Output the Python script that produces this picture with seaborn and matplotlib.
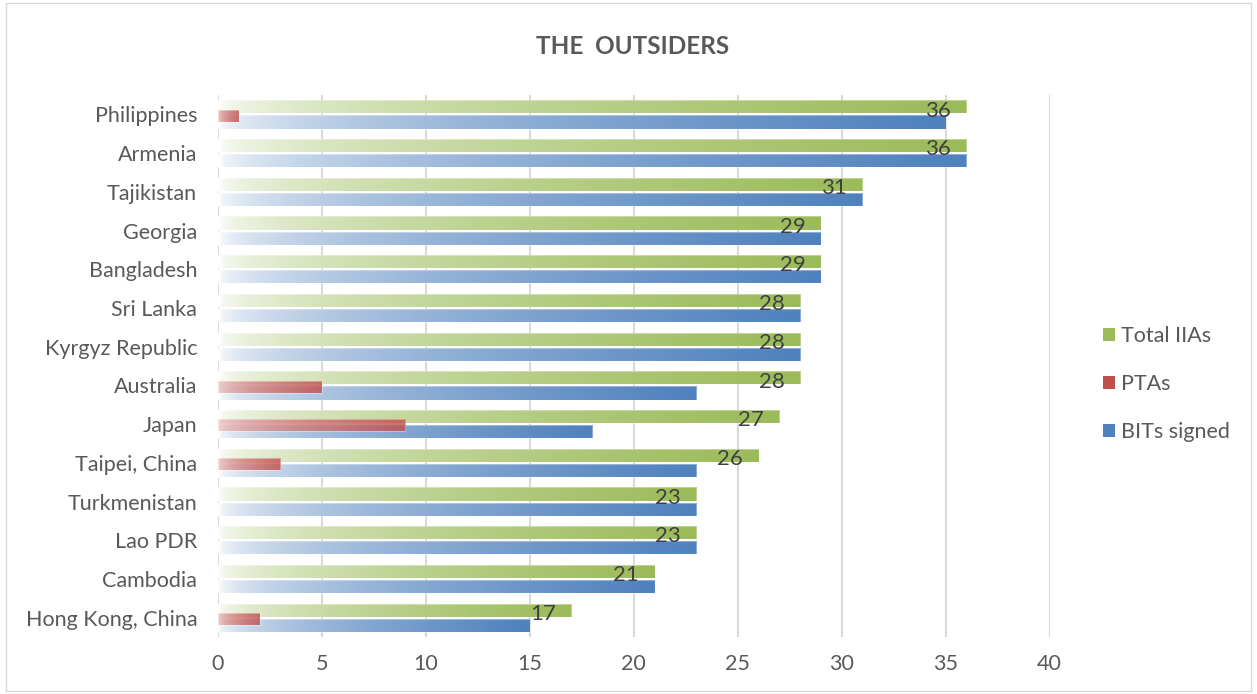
import numpy as np
import pandas as pd
import seaborn as sns
import matplotlib.pyplot as plt
from matplotlib.colors import to_rgb
from matplotlib.patches import Patch, Rectangle

countries = ["Philippines", "Armenia", "Tajikistan", "Georgia", "Bangladesh",
             "Sri Lanka", "Kyrgyz Republic", "Australia", "Japan",
             "Taipei, China", "Turkmenistan", "Lao PDR", "Cambodia",
             "Hong Kong, China"]
total_iias = [36, 36, 31, 29, 29, 28, 28, 28, 27, 26, 23, 23, 21, 17]
ptas = [1, 0, 0, 0, 0, 0, 0, 5, 9, 3, 0, 0, 0, 2]
bits_signed = [35, 36, 31, 29, 29, 28, 28, 23, 18, 23, 23, 23, 21, 15]

series_names = ["Total IIAs", "PTAs", "BITs signed"]
series_values = [total_iias, ptas, bits_signed]
series_colors = ["#9BBB59", "#C0504D", "#4F81BD"]
series_offset = [-0.195, 0.03, 0.195]
series_height = [0.34, 0.31, 0.34]
series_start = [0.0, 0.25, 0.0]
series_alpha = [1.0, 0.82, 1.0]
series_z = [2, 4, 3]

sns.set_theme(style="white")
plt.rcParams["font.family"] = ["Lato", "DejaVu Sans"]
text_col = "#595959"
fs = 15.5

fig = plt.figure(figsize=(12.57, 6.94), dpi=100)
ax = fig.add_axes([0.1734, 0.082, 0.835 - 0.1734, 0.781])

pos = np.arange(len(countries))


def gradient(color, start, n=256, gamma=0.5):
    t = np.linspace(0, 1, n)
    a = start + (1 - start) * t ** gamma
    c = np.array(to_rgb(color))
    return (1 - a[:, None] * (1 - c))[None, :, :]


for name, vals, col, off, h, st, al, z in zip(series_names, series_values,
                                             series_colors, series_offset,
                                             series_height, series_start,
                                             series_alpha, series_z):
    df = pd.DataFrame({"value": vals, "pos": pos + off})
    before = len(ax.patches)
    sns.barplot(data=df, x="value", y="pos", orient="h", native_scale=True,
                width=h, color=col, ax=ax, zorder=z)
    img = gradient(col, st)
    for p in ax.patches[before:]:
        w = p.get_width()
        if w <= 0:
            p.set_visible(False)
            continue
        x0, y0 = p.get_x(), p.get_y()
        hh = p.get_height()
        p.set_facecolor("none")
        p.set_edgecolor((1, 1, 1, 0.35))
        p.set_linewidth(0.8)
        p.set_zorder(z + 0.1)
        im = ax.imshow(img, extent=(x0, x0 + w, y0, y0 + hh), aspect="auto",
                       interpolation="bilinear", zorder=z, alpha=al)
        im.set_clip_path(p)

# value labels for the total
for i, v in enumerate(total_iias):
    ax.text(v - 0.75, i - 0.1, str(v), ha="right", va="center",
            fontsize=16, color="#404040", zorder=6)

ax.set_xlim(0, 40)
ax.set_ylim(len(countries) - 0.5, -0.5)
ax.set_xticks(range(0, 41, 5))
ax.set_yticks(pos)
ax.set_yticklabels(countries)
ax.set_xlabel("")
ax.set_ylabel("")
ax.tick_params(axis="both", length=0, labelsize=fs, labelcolor=text_col)
ax.tick_params(axis="x", pad=12)
ax.tick_params(axis="y", pad=15)
for s in ax.spines.values():
    s.set_visible(False)
ax.xaxis.grid(True, color="#D9D9D9", linewidth=1.5, zorder=0)
ax.yaxis.grid(False)
ax.set_axisbelow(True)

fig.text(0.503, 0.933, "THE  OUTSIDERS", ha="center", va="center",
         fontsize=17.5, fontweight="bold", color=text_col)

handles = [Patch(facecolor=c, edgecolor="none") for c in series_colors]
fig.legend(handles, series_names, loc="center left",
           bbox_to_anchor=(0.862, 0.447), frameon=False, fontsize=fs,
           labelcolor=text_col, handlelength=0.55, handleheight=0.55,
           handletextpad=0.3, labelspacing=1.3)

fig.patches.append(Rectangle((0.005, 0.005), 0.99, 0.99, transform=fig.transFigure,
                             fill=False, edgecolor="#D9D9D9", linewidth=1))

fig.savefig("out.png", dpi=100)
